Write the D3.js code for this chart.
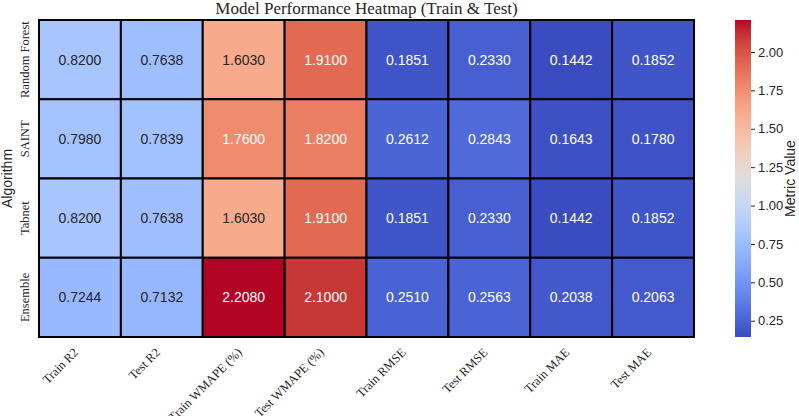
<!DOCTYPE html>
<html>
<head>
<meta charset="utf-8">
<script src="https://cdn.jsdelivr.net/npm/d3@7"></script>
<style>
  body { margin: 0; background: #fff; }
  svg { display: block; }
</style>
</head>
<body>
<svg id="chart" width="799" height="416"></svg>
<script>
// chart data
var algorithms = ["Random Forest", "SAINT", "Tabnet", "Ensemble"];
var metrics = ["Train R2", "Test R2", "Train WMAPE (%)", "Test WMAPE (%)", "Train RMSE", "Test RMSE", "Train MAE", "Test MAE"];
var rfValues       = [0.8200, 0.7638, 1.6030, 1.9100, 0.1851, 0.2330, 0.1442, 0.1852];
var saintValues    = [0.7980, 0.7839, 1.7600, 1.8200, 0.2612, 0.2843, 0.1643, 0.1780];
var tabnetValues   = [0.8200, 0.7638, 1.6030, 1.9100, 0.1851, 0.2330, 0.1442, 0.1852];
var ensembleValues = [0.7244, 0.7132, 2.2080, 2.1000, 0.2510, 0.2563, 0.2038, 0.2063];
var colorbarTicks = [0.25, 0.50, 0.75, 1.00, 1.25, 1.50, 1.75, 2.00];

// matplotlib coolwarm samples (33 points)
var coolwarm = [
  [0.2298,0.2987,0.7537],[0.2662,0.3531,0.8015],[0.3039,0.4065,0.8450],[0.3428,0.4588,0.8837],
  [0.3830,0.5094,0.9174],[0.4244,0.5581,0.9456],[0.4667,0.6046,0.9682],[0.5096,0.6483,0.9848],
  [0.5530,0.6889,0.9954],[0.5963,0.7261,0.9998],[0.6392,0.7596,0.9982],[0.6813,0.7890,0.9904],
  [0.7222,0.8140,0.9766],[0.7615,0.8343,0.9569],[0.7987,0.8498,0.9317],[0.8335,0.8602,0.9011],
  [0.8654,0.8654,0.8654],[0.8978,0.8489,0.8209],[0.9241,0.8274,0.7745],[0.9445,0.8009,0.7267],
  [0.9589,0.7698,0.6780],[0.9673,0.7341,0.6288],[0.9700,0.6943,0.5794],[0.9668,0.6504,0.5303],
  [0.9580,0.6028,0.4818],[0.9437,0.5518,0.4342],[0.9239,0.4973,0.3880],[0.8990,0.4396,0.3432],
  [0.8692,0.3783,0.3003],[0.8346,0.3129,0.2593],[0.7956,0.2413,0.2205],[0.7525,0.1572,0.1841],
  [0.7057,0.0156,0.1502]
];
function cw(t) {
  t = Math.max(0, Math.min(1, t));
  var p = t * (coolwarm.length - 1), i = Math.min(Math.floor(p), coolwarm.length - 2), f = p - i;
  var a = coolwarm[i], b = coolwarm[i + 1];
  return [0, 1, 2].map(function(k) { return a[k] + (b[k] - a[k]) * f; });
}
function toCss(c) { return d3.rgb(c[0] * 255, c[1] * 255, c[2] * 255).formatHex(); }
function lum(c) {
  var l = c.map(function(v) { return v <= 0.03928 ? v / 12.92 : Math.pow((v + 0.055) / 1.055, 2.4); });
  return 0.2126 * l[0] + 0.7152 * l[1] + 0.0722 * l[2];
}

var rows = [rfValues, saintValues, tabnetValues, ensembleValues];
var cells = [];
rows.forEach(function(vals, r) {
  vals.forEach(function(v, c) { cells.push({ alg: algorithms[r], metric: metrics[c], value: v }); });
});

var vmin = d3.min(cells, function(d) { return d.value; });
var vmax = d3.max(cells, function(d) { return d.value; });
var norm = d3.scaleLinear().domain([vmin, vmax]).range([0, 1]);

var svg = d3.select("#chart");
var mLeft = 39, mRight = 694, mTop = 20, mBottom = 337;
var x = d3.scaleBand().domain(metrics).range([mLeft, mRight]);
var y = d3.scaleBand().domain(algorithms).range([mTop, mBottom]);

// title
svg.append("text")
  .attr("x", (mLeft + mRight) / 2).attr("y", 14)
  .attr("text-anchor", "middle")
  .style("font-family", "Liberation Serif, Times New Roman, serif")
  .style("font-size", "17px").attr("fill", "#262626")
  .text("Model Performance Heatmap (Train & Test)");

// cells
var g = svg.append("g");
g.selectAll("rect").data(cells).enter().append("rect")
  .attr("x", function(d) { return x(d.metric); })
  .attr("y", function(d) { return y(d.alg); })
  .attr("width", x.bandwidth()).attr("height", y.bandwidth())
  .attr("fill", function(d) { return toCss(cw(norm(d.value))); })
  .attr("stroke", "#000").attr("stroke-width", 2);

g.selectAll("text.annot").data(cells).enter().append("text")
  .attr("class", "annot")
  .attr("x", function(d) { return x(d.metric) + x.bandwidth() / 2; })
  .attr("y", function(d) { return y(d.alg) + y.bandwidth() / 2; })
  .attr("dy", "0.35em").attr("text-anchor", "middle")
  .style("font-family", "Liberation Sans, Arial, sans-serif").style("font-size", "14px")
  .attr("fill", function(d) { return lum(cw(norm(d.value))) > 0.408 ? "#262626" : "#ffffff"; })
  .text(function(d) { return d.value.toFixed(4); });

// x tick labels
svg.append("g").selectAll("text").data(metrics).enter().append("text")
  .attr("transform", function(d) { return "translate(" + (x(d) + x.bandwidth() / 2 - 4) + "," + (mBottom + 13) + ") rotate(-45)"; })
  .attr("text-anchor", "end").attr("dy", "0.35em")
  .style("font-family", "Liberation Serif, Times New Roman, serif").style("font-size", "12.5px")
  .attr("fill", "#262626")
  .text(function(d) { return d; });

// y tick labels
svg.append("g").selectAll("text").data(algorithms).enter().append("text")
  .attr("transform", function(d) { return "translate(29," + (y(d) + y.bandwidth() / 2) + ") rotate(-90)"; })
  .attr("text-anchor", "middle")
  .style("font-family", "Liberation Serif, Times New Roman, serif").style("font-size", "12.5px")
  .attr("fill", "#262626")
  .text(function(d) { return d; });

svg.append("text")
  .attr("transform", "translate(12," + (mTop + mBottom) / 2 + ") rotate(-90)")
  .attr("text-anchor", "middle")
  .style("font-family", "Liberation Sans, Arial, sans-serif").style("font-size", "14px")
  .attr("fill", "#262626").text("Algorithm");

// colorbar
var cbX = 735, cbW = 16;
var cbScale = d3.scaleLinear().domain([vmin, vmax]).range([mBottom, mTop]);
var defs = svg.append("defs");
var grad = defs.append("linearGradient").attr("id", "cbgrad")
  .attr("x1", "0").attr("y1", "1").attr("x2", "0").attr("y2", "0");
d3.range(0, 1.0001, 1 / 64).forEach(function(t) {
  grad.append("stop").attr("offset", t).attr("stop-color", toCss(cw(t)));
});
svg.append("rect").attr("x", cbX).attr("y", mTop).attr("width", cbW).attr("height", mBottom - mTop)
  .attr("fill", "url(#cbgrad)");

var cbAxis = d3.axisRight(cbScale).tickValues(colorbarTicks).tickFormat(d3.format(".2f")).tickSize(4).tickPadding(3);
var cbG = svg.append("g").attr("transform", "translate(" + (cbX + cbW) + ",0)").call(cbAxis);
cbG.select(".domain").remove();
cbG.selectAll("line").attr("stroke", "#262626");
cbG.selectAll("text")
  .style("font-family", "Liberation Sans, Arial, sans-serif").style("font-size", "13px")
  .attr("fill", "#262626");

svg.append("text")
  .attr("transform", "translate(795," + (mTop + mBottom) / 2 + ") rotate(-90)")
  .attr("text-anchor", "middle")
  .style("font-family", "Liberation Sans, Arial, sans-serif").style("font-size", "14px")
  .attr("fill", "#262626").text("Metric Value");
</script>
</body>
</html>
